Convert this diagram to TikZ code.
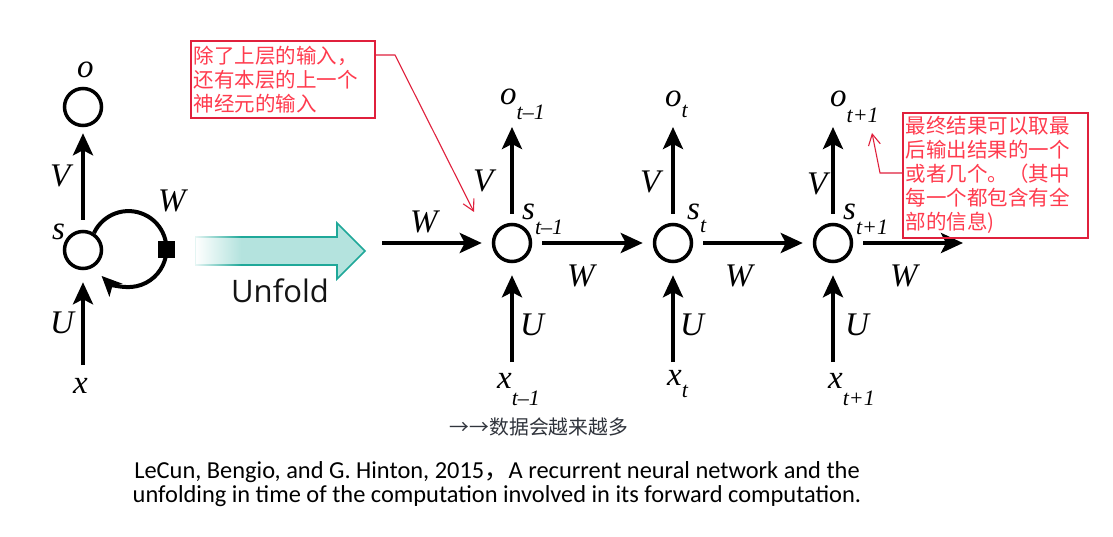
\documentclass[tikz,border=0pt]{standalone}
\usepackage{fontspec}
\setmainfont{Liberation Serif}
\newfontfamily\cjk{Noto Sans CJK SC}
\newfontfamily\capfont{Carlito}
\newfontfamily\unffont{Open Sans}
\usetikzlibrary{arrows.meta}
\definecolor{notered}{HTML}{FF3B4E}
\definecolor{noteline}{HTML}{E0203C}
\definecolor{arrowfill}{HTML}{B4E3DE}
\definecolor{arrowline}{HTML}{1FA899}
\definecolor{gray30}{HTML}{30343C}
\newcommand{\labfont}{\fontsize{33}{33}\selectfont\itshape}
\newcommand{\mysub}[2]{\raisebox{-#1pt}{\fontsize{22}{22}\selectfont #2}}
\begin{document}
\begin{tikzpicture}[x=1pt,y=-1pt,
  neuron/.style={circle,draw,line width=3.5pt,minimum size=37pt,inner sep=0pt},
  arr/.style={line width=4.5pt,-{Stealth[length=22pt,width=20pt,inset=5pt]}},
  loopline/.style={line width=4pt,-{Stealth[length=20pt,width=18pt,inset=5pt]}},
  lab/.style={font=\labfont,inner sep=0pt,anchor=base west},
  note/.style={draw=noteline,line width=1.6pt,text=notered,anchor=north west,inner sep=0pt,
    align=left,font=\cjk\fontsize{20.5}{24}\selectfont},
  callout/.style={draw=noteline,line width=1.1pt,-{Straight Barb[length=11pt,width=12pt]}}]
\useasboundingbox (0,0) rectangle (1113,537);
\fill[white] (0,0) rectangle (1113,537);

% ---------- folded network ----------
\node[neuron] (oL) at (83,107) {};
\node[neuron] (sL) at (83,250) {};
\node[fill,minimum size=17pt,inner sep=0pt] (sq) at (166,250) {};
\node[lab] (oLl) at (77,78) {o};
\node[lab] (sLl) at (52,240) {s};
\node[lab] (xL) at (73,393) {x};
\node[lab] (VL) at (50,187) {V};
\node[lab] (WL) at (158,212) {W};
\node[lab] (UL) at (50,333) {U};
\draw[arr] ([yshift=10pt]sL.north) -- ([yshift=-6pt]oL.south);
\draw[arr] ([yshift=28pt]sL |- xL.base) -- ([yshift=-12pt]sL.south);
\draw[loopline] (sL.57) arc[start angle=-155,end angle=135,radius=38];
\node[fill,minimum size=17pt,inner sep=0pt] at (sq) {};

% ---------- unfold arrow ----------
\fill[arrowfill] (240,237) -- (337,237) -- (337,223) -- (365,251) -- (337,279) -- (337,265) -- (240,265) -- cycle;
\shade[left color=white,right color=arrowfill] (195,237) rectangle (241,265);
\draw[arrowline,line width=1.6pt,line join=miter] (240,237) -- (337,237) -- (337,223) -- (365,251) -- (337,279) -- (337,265) -- (240,265);
\shade[left color=arrowline!10,right color=arrowline] (195,236.2) rectangle (241,237.8);
\shade[left color=arrowline!10,right color=arrowline] (195,264.2) rectangle (241,265.8);
\fill[arrowline!12] (194.5,236.2) rectangle (196,265.8);
\node[font=\unffont\fontsize{31}{31}\selectfont,inner sep=0pt,anchor=base,text=black!92] (unf) at (280,302) {Unfold};

% ---------- unfolded network ----------
\node[neuron] (s1) at (512,243) {};
\node[neuron] (s2) at (673,243) {};
\node[neuron] (s3) at (833,243) {};

\node[lab] (o1) at (500,105) {o\mysub{15}{t–1}};
\node[lab] (o2) at (665,107) {o\mysub{11}{t}};
\node[lab] (o3) at (830,107) {o\mysub{16}{t+1}};
\node[lab] (s1l) at (522,220) {s\mysub{15}{t–1}};
\node[lab] (s2l) at (687,220) {s\mysub{13}{t}};
\node[lab] (s3l) at (843,220) {s\mysub{15}{t+1}};
\node[lab] (x1) at (497,388) {x\mysub{17}{t–1}};
\node[lab] (x2) at (667,385) {x\mysub{12}{t}};
\node[lab] (x3) at (828,388) {x\mysub{17}{t+1}};

\node[lab] (V1) at (473,192) {V};
\node[lab] (V2) at (640,193) {V};
\node[lab] (V3) at (807,195) {V};
\node[lab] (U1) at (520,335) {U};
\node[lab] (U2) at (680,335) {U};
\node[lab] (U3) at (845,335) {U};
\node[lab] (W1) at (410,233) {W};
\node[lab] (W2) at (567,287) {W};
\node[lab] (W3) at (725,287) {W};
\node[lab] (W4) at (890,287) {W};

\coordinate (in) at (382,243);
\coordinate (out) at (963,243);
\draw[arr] (in) -- ([xshift=-10pt]s1.west);
\draw[arr] ([xshift=10pt]s1.east) -- ([xshift=-10pt]s2.west);
\draw[arr] ([xshift=10pt]s2.east) -- ([xshift=-10pt]s3.west);
\draw[arr] ([xshift=10pt]s3.east) -- (out);

\draw[arr] ([yshift=9pt]s1.north) -- ([yshift=-22pt]s1 |- o1.base);
\draw[arr] ([yshift=9pt]s2.north) -- ([yshift=-20pt]s2 |- o2.base);
\draw[arr] ([yshift=9pt]s3.north) -- ([yshift=-20pt]s3 |- o3.base);
\draw[arr] ([yshift=26pt]s1 |- x1.base) -- ([yshift=-12pt]s1.south);
\draw[arr] ([yshift=23pt]s2 |- x2.base) -- ([yshift=-12pt]s2.south);
\draw[arr] ([yshift=26pt]s3 |- x3.base) -- ([yshift=-12pt]s3.south);

% ---------- notes ----------
\node[note,minimum width=184pt,minimum height=77pt,text width=178pt] (n1) at (190,40)
  {除了上层的输入，\\还有本层的上一个\\神经元的输入};
\node[note,minimum width=185pt,minimum height=125pt,text width=179pt] (n2) at (902,112)
  {最终结果可以取最\\后输出结果的一个\\或者几个。（其中\\每一个都包含有全\\部的信息)};
\coordinate (c1) at (395,55);
\coordinate (t1) at (474,212);
\draw[callout] (n1.east |- c1) -- (c1) -- (t1);
\coordinate (c2) at (880,173);
\coordinate (t2) at (872,133);
\draw[callout] (n2.west |- c2) -- (c2) -- (t2);

\node[font=\cjk\fontsize{19.8}{19.8}\selectfont,text=gray30,inner sep=0pt,anchor=base] (more) at (539,434) {→→数据会越来越多};

\node[font=\capfont\fontsize{24.4}{24}\selectfont,align=center,inner sep=0pt,anchor=base] (cap) at (497,502)
  {LeCun, Bengio, and G. Hinton, 2015{\cjk ，}A recurrent neural network and the\\
   unfolding in time of the computation involved in its forward computation.};
\end{tikzpicture}
\end{document}
